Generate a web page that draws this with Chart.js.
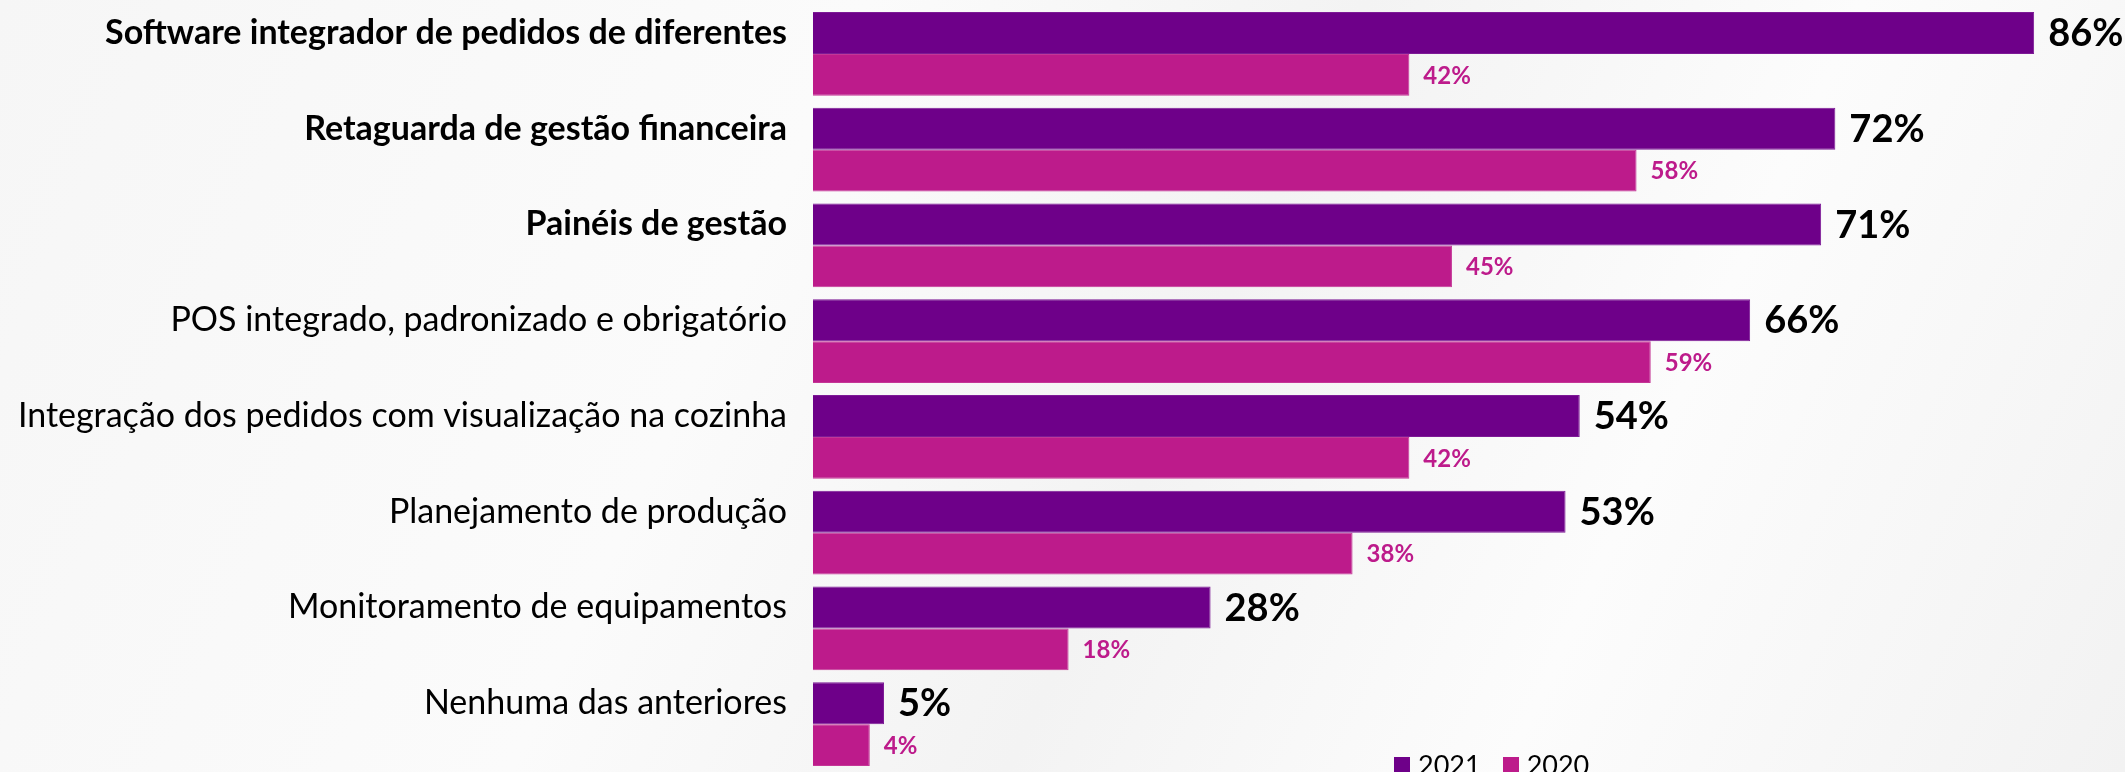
<!DOCTYPE html>
<html lang="pt">
<head>
    <meta charset="UTF-8">
    <title>Tecnologias adotadas</title>
    <script src="https://cdn.jsdelivr.net/npm/chart.js"></script>
    <style>
        body {
            margin: 0;
            font-family: 'Lato', sans-serif;
            background: linear-gradient(115deg, #f6f6f6 0%, #fbfbfb 35%, #f3f3f3 55%, #fcfcfc 75%, #f2f2f2 100%);
        }

        #chart-container {
            position: relative;
            width: 2125px;
            height: 772px;
            overflow: hidden;
        }

        /* legend sits inside the plot area, bottom right */
        #legend {
            position: absolute;
            left: 1394px;
            top: 748px;
            display: flex;
            align-items: center;
            font-size: 27px;
            color: #000;
        }

        #legend span.box {
            display: inline-block;
            width: 16px;
            height: 16px;
            margin-right: 8px;
        }

        #legend span.item {
            display: flex;
            align-items: center;
            margin-right: 22px;
        }
    </style>
</head>
<body>
    <div id="chart-container">
        <canvas id="barChart"></canvas>
        <div id="legend"></div>
    </div>
    <script>
        const categories = [
            'Software integrador de pedidos de diferentes',
            'Retaguarda de gestão financeira',
            'Painéis de gestão',
            'POS integrado, padronizado e obrigatório',
            'Integração dos pedidos com visualização na cozinha',
            'Planejamento de produção',
            'Monitoramento de equipamentos',
            'Nenhuma das anteriores'
        ];
        const boldCount = 3; // first three labels are bold

        const values2021 = [86, 72, 71, 66, 54, 53, 28, 5];
        const values2020 = [42, 58, 45, 59, 42, 38, 18, 4];

        const color2021 = '#6e0089';
        const color2020 = '#bd1b8b';

        const fontFamily = 'Lato, sans-serif';

        // draws the value next to the end of each bar
        const valueLabels = {
            id: 'valueLabels',
            afterDatasetsDraw(chart) {
                const ctx = chart.ctx;
                ctx.save();
                ctx.textBaseline = 'middle';
                ctx.textAlign = 'left';
                chart.data.datasets.forEach((ds, i) => {
                    const meta = chart.getDatasetMeta(i);
                    meta.data.forEach((bar, j) => {
                        if (i === 0) {
                            ctx.font = 'bold 38px ' + fontFamily;
                            ctx.fillStyle = '#000';
                        } else {
                            ctx.font = 'bold 24px ' + fontFamily;
                            ctx.fillStyle = color2020;
                        }
                        ctx.fillText(ds.data[j] + '%', bar.x + 14, bar.y + 1);
                    });
                });
                ctx.restore();
            }
        };

        const ctx = document.getElementById('barChart').getContext('2d');
        const chart = new Chart(ctx, {
            type: 'bar',
            data: {
                labels: categories,
                datasets: [
                    {
                        label: '2021',
                        data: values2021,
                        backgroundColor: color2021,
                        borderColor: '#7d1a96',
                        borderWidth: 1,
                        barPercentage: 1,
                        categoryPercentage: 0.877
                    },
                    {
                        label: '2020',
                        data: values2020,
                        backgroundColor: color2020,
                        borderColor: '#c43696',
                        borderWidth: 1,
                        barPercentage: 1,
                        categoryPercentage: 0.877
                    }
                ]
            },
            options: {
                indexAxis: 'y',
                responsive: true,
                maintainAspectRatio: false,
                animation: false,
                layout: {
                    padding: { top: 6, bottom: 0, left: 0, right: 0 }
                },
                scales: {
                    x: {
                        display: false,
                        min: 0,
                        max: 92.4
                    },
                    y: {
                        grid: { display: false },
                        border: { display: false },
                        afterFit(scale) {
                            // fixed label column, no extra room above/below the bars
                            scale.width = 813;
                            scale.paddingTop = 0;
                            scale.paddingBottom = 0;
                        },
                        ticks: {
                            color: '#000',
                            padding: 18,
                            labelOffset: -21,
                            font: (c) => ({
                                family: fontFamily,
                                size: 34,
                                weight: c.index < boldCount ? 'bold' : 'normal'
                            })
                        }
                    }
                },
                plugins: {
                    legend: { display: false },
                    tooltip: { enabled: false }
                }
            },
            plugins: [valueLabels]
        });

        // html legend
        const legendEl = document.getElementById('legend');
        chart.data.datasets.forEach(ds => {
            const item = document.createElement('span');
            item.className = 'item';
            item.innerHTML = '<span class="box" style="background:' + ds.backgroundColor + '"></span>' + ds.label;
            legendEl.appendChild(item);
        });
    </script>
</body>
</html>
